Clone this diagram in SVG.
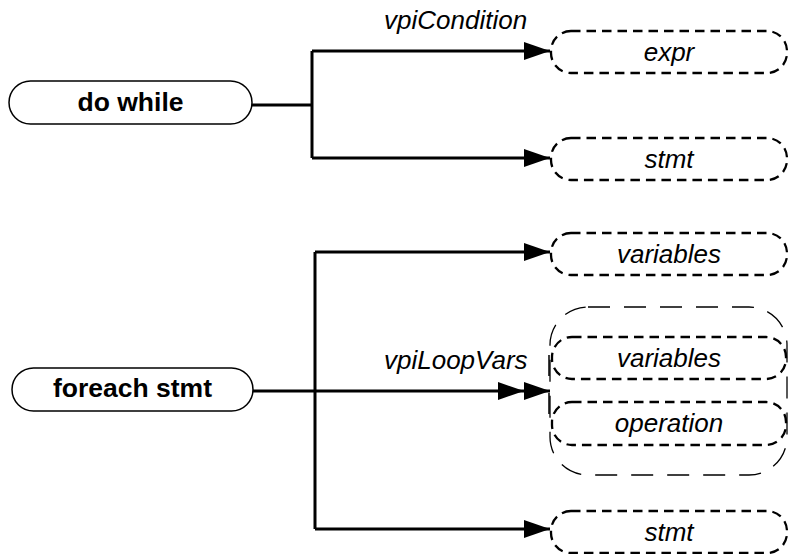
<svg xmlns="http://www.w3.org/2000/svg" width="790" height="554" viewBox="0 0 790 554">
<style>
.node{fill:#fff;stroke:#000;stroke-width:1.5}
.obj{fill:none;stroke:#000;stroke-width:2.3;stroke-dasharray:9.5 6}
.grp{fill:none;stroke:#000;stroke-width:1.3;stroke-dasharray:22 14}
.b{font-family:"Liberation Sans",Arial,sans-serif;font-weight:bold;font-size:26.5px;text-anchor:middle}
.i{font-family:"Liberation Sans",Arial,sans-serif;font-style:italic;font-size:26px;text-anchor:middle}
.lbl{font-family:"Liberation Sans",Arial,sans-serif;font-style:italic;font-size:26px}
.c{fill:none;stroke:#000;stroke-width:3}
</style>
<defs>
<marker id="arr" markerUnits="userSpaceOnUse" markerWidth="28" markerHeight="20" refX="26" refY="9" orient="auto">
<path d="M0,0 L26,9 L0,18 z" fill="#000"/>
</marker>
<marker id="arr2" markerUnits="userSpaceOnUse" markerWidth="54" markerHeight="20" refX="52" refY="9" orient="auto">
<path d="M0,0 L26,9 L0,18 z M26,0 L52,9 L26,18 z" fill="#000"/>
</marker>
</defs>
<g id="connectors">
<path class="c" d="M252,105 H312"/>
<path class="c" d="M312,51 V158"/>
<path class="c" d="M312,51 H550" marker-end="url(#arr)"/>
<path class="c" d="M312,158 H550" marker-end="url(#arr)"/>
<path class="c" d="M253,391 H315"/>
<path class="c" d="M315,252 V529"/>
<path class="c" d="M315,252 H550" marker-end="url(#arr)"/>
<path class="c" d="M315,391 H550" marker-end="url(#arr2)"/>
<path class="c" d="M315,529 H550" marker-end="url(#arr)"/>
<path d="M549,355 V376 M549,393 V414" stroke="#000" stroke-width="1.5"/>
<text class="lbl" x="384" y="29">vpiCondition</text>
<text class="lbl" x="384" y="369">vpiLoopVars</text>
</g>
<g id="do-while">
<rect class="node" x="9" y="81" width="243" height="43" rx="21.5"/>
<text class="b" x="130.5" y="111">do while</text>
</g>
<g id="expr">
<rect class="obj" x="551" y="31" width="236" height="42" rx="20"/>
<text class="i" x="669" y="61">expr</text>
</g>
<g id="stmt1">
<rect class="obj" x="551" y="138" width="236" height="42" rx="20"/>
<text class="i" x="669" y="168">stmt</text>
</g>
<g id="foreach-stmt">
<rect class="node" x="12" y="368" width="241" height="43" rx="21.5"/>
<text class="b" x="132.5" y="397">foreach stmt</text>
</g>
<g id="variables1">
<rect class="obj" x="551" y="233" width="236" height="42" rx="20"/>
<text class="i" x="669" y="263">variables</text>
</g>
<g id="loopvars-group">
<rect class="grp" x="550" y="307" width="237" height="168" rx="38"/>
<g id="variables2">
<rect class="obj" x="552" y="337" width="234" height="42" rx="20"/>
<text class="i" x="669" y="367">variables</text>
</g>
<g id="operation">
<rect class="obj" x="552" y="402" width="234" height="43" rx="20"/>
<text class="i" x="669" y="432">operation</text>
</g>
</g>
<g id="stmt2">
<rect class="obj" x="551" y="511" width="236" height="42" rx="20"/>
<text class="i" x="669" y="541">stmt</text>
</g>
</svg>
